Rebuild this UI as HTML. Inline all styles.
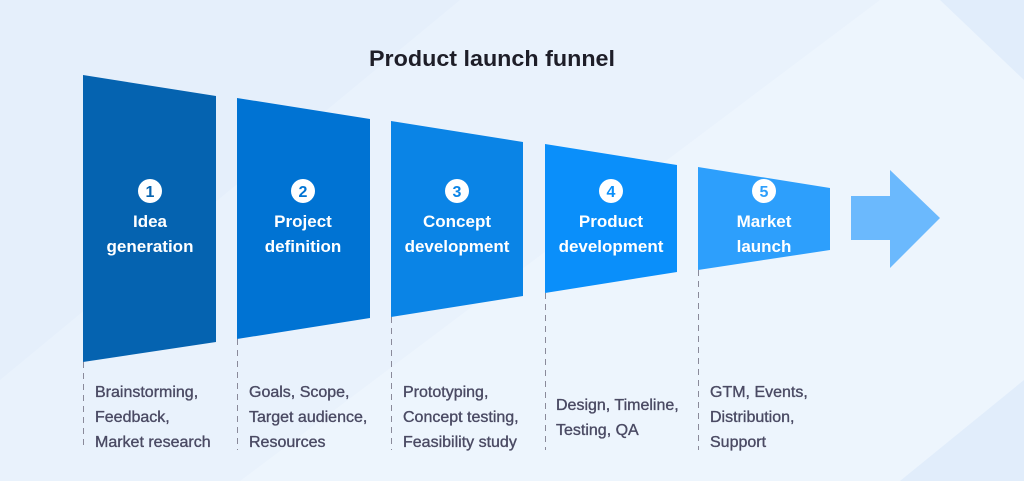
<!DOCTYPE html>
<html><head><style>
body{margin:0;width:1024px;height:481px;overflow:hidden;font-family:"Liberation Sans",sans-serif;}
</style></head><body>
<svg width="1024" height="481" viewBox="0 0 1024 481" xmlns="http://www.w3.org/2000/svg" font-family="Liberation Sans, sans-serif">
<rect width="1024" height="481" fill="#e9f2fc"/>
<polygon points="0,0 460,0 0,380" fill="#e5effb"/>
<polygon points="240,481 880,0 1024,0 1024,481" fill="#edf5fd"/>
<polygon points="900,481 1024,380 1024,481" fill="#e1edfb"/>
<polygon points="940,0 1024,0 1024,80" fill="#e1edfb"/>
<text x="492" y="66" text-anchor="middle" font-size="22" font-weight="bold" fill="#1e1e28" textLength="246" lengthAdjust="spacingAndGlyphs">Product launch funnel</text>
<g stroke="#8a8a9a" stroke-width="1" stroke-dasharray="6,5">
<line x1="83.5" y1="362" x2="83.5" y2="450"/>
<line x1="237.5" y1="339" x2="237.5" y2="450"/>
<line x1="391.5" y1="317" x2="391.5" y2="450"/>
<line x1="545.5" y1="293" x2="545.5" y2="450"/>
<line x1="698.5" y1="270" x2="698.5" y2="450"/>
</g>
<polygon points="83,75 216,96 216,342 83,362" fill="#0563b0"/>
<polygon points="237,98 370,119 370,318 237,339" fill="#0073d3"/>
<polygon points="391,121 523,142 523,296 391,317" fill="#0a84e6"/>
<polygon points="545,144 677,165 677,272 545,293" fill="#0a8ffa"/>
<polygon points="698,167 830,188 830,250 698,270" fill="#2d9ffc"/>
<polygon points="851,196 890,196 890,170 940,218 890,268 890,240 851,240" fill="#6bb9fd"/>
<g font-weight="bold" text-anchor="middle">
<g fill="#fff"><circle cx="150" cy="191" r="12"/><circle cx="303" cy="191" r="12"/><circle cx="457" cy="191" r="12"/><circle cx="611" cy="191" r="12"/><circle cx="764" cy="191" r="12"/></g>
<g font-size="16"><text x="150" y="197" fill="#0563b0">1</text><text x="303" y="197" fill="#0073d3">2</text><text x="457" y="197" fill="#0a84e6">3</text><text x="611" y="197" fill="#0a8ffa">4</text><text x="764" y="197" fill="#2d9ffc">5</text></g>
<g font-size="17" fill="#fff">
<text x="150" y="227">Idea</text><text x="150" y="252">generation</text>
<text x="303" y="227">Project</text><text x="303" y="252">definition</text>
<text x="457" y="227">Concept</text><text x="457" y="252">development</text>
<text x="611" y="227">Product</text><text x="611" y="252">development</text>
<text x="764" y="227">Market</text><text x="764" y="252">launch</text>
</g></g>
<g font-size="16" fill="#4a4a63" stroke="#4a4a63" stroke-width="0.35">
<text x="95" y="397">Brainstorming,</text><text x="95" y="422">Feedback,</text><text x="95" y="447">Market research</text>
<text x="249" y="397">Goals, Scope,</text><text x="249" y="422">Target audience,</text><text x="249" y="447">Resources</text>
<text x="403" y="397">Prototyping,</text><text x="403" y="422">Concept testing,</text><text x="403" y="447">Feasibility study</text>
<text x="556" y="410">Design, Timeline,</text><text x="556" y="435">Testing, QA</text>
<text x="710" y="397">GTM, Events,</text><text x="710" y="422">Distribution,</text><text x="710" y="447">Support</text>
</g>
</svg>
</body></html>
